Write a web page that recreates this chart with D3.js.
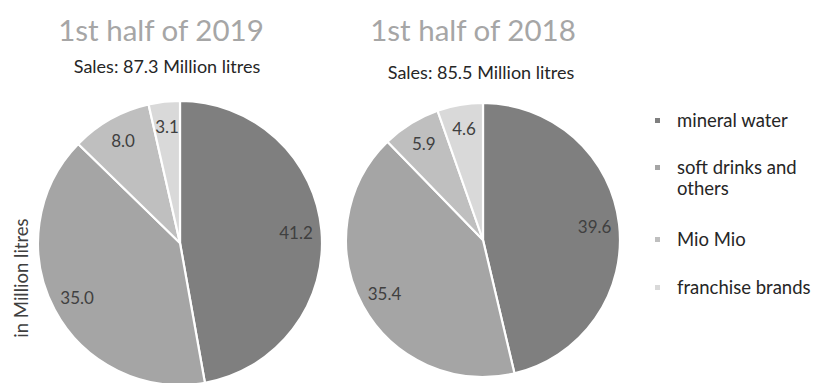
<!DOCTYPE html>
<html><head><meta charset="utf-8">
<script src="https://cdn.jsdelivr.net/npm/d3@7"></script>
<style>body{margin:0;background:#fff}svg{display:block}</style>
</head><body>
<script>
const categories = ["mineral water", "soft drinks and others", "Mio Mio", "franchise brands"];
const legendLines = [["mineral water"], ["soft drinks and", "others"], ["Mio Mio"], ["franchise brands"]];
const values2019 = [41.2, 35.0, 8.0, 3.1];
const values2018 = [39.6, 35.4, 5.9, 4.6];
const titles = ["1st half of 2019", "1st half of 2018"];
const subtitles = ["Sales: 87.3 Million litres", "Sales: 85.5 Million litres"];
const yLabel = "in Million litres";
const colors = ["#7f7f7f", "#a5a5a5", "#bfbfbf", "#d9d9d9"];

const W = 815, H = 383;
const font = "Lato, 'Open Sans', sans-serif";
const svg = d3.select("body").append("svg").attr("width", W).attr("height", H);

const color = d3.scaleOrdinal().domain(categories).range(colors);
const pie = d3.pie().sort(null).value(d => d.v);

const charts = [
  {values: values2019, cx: 180, cy: 243, r: 142, title: titles[0], sub: subtitles[0], tx: 161, sx: 167, ty: 41, sy: 73},
  {values: values2018, cx: 483, cy: 240, r: 137, title: titles[1], sub: subtitles[1], tx: 473, sx: 481, ty: 41, sy: 79}
];

charts.forEach(c => {
  const data = categories.map((k, i) => ({k, v: c.values[i]}));
  const arcs = pie(data);
  const arc = d3.arc().innerRadius(0).outerRadius(c.r);
  const lab = d3.arc().innerRadius(c.r * 0.82).outerRadius(c.r * 0.82);
  const g = svg.append("g").attr("transform", `translate(${c.cx},${c.cy})`);
  g.selectAll("path").data(arcs).join("path")
    .attr("d", arc).attr("fill", d => color(d.data.k))
    .attr("stroke", "#fff").attr("stroke-width", 2.2).attr("stroke-linejoin", "round");
  g.selectAll("text").data(arcs).join("text")
    .attr("transform", d => `translate(${lab.centroid(d)})`)
    .attr("text-anchor", "middle").attr("dy", "0.35em")
    .attr("font-family", font).attr("font-size", 17).attr("fill", "#404040")
    .text(d => d3.format(".1f")(d.data.v));
  svg.append("text").attr("x", c.tx).attr("y", c.ty).attr("text-anchor", "middle")
    .attr("font-family", font).attr("font-weight", 400).attr("font-size", 29.5).attr("fill", "#a6a6a6")
    .text(c.title);
  svg.append("text").attr("x", c.sx).attr("y", c.sy).attr("text-anchor", "middle")
    .attr("font-family", font).attr("font-size", 18).attr("fill", "#262626")
    .text(c.sub);
});

svg.append("text").attr("transform", "translate(28,278) rotate(-90)")
  .attr("text-anchor", "middle").attr("font-family", font).attr("font-size", 18.5).attr("fill", "#404040")
  .text(yLabel);

const legY = [121, 168, 240, 288];
const lg = svg.append("g");
categories.forEach((k, i) => {
  lg.append("rect").attr("x", 655).attr("y", legY[i] - 3).attr("width", 5).attr("height", 5).attr("fill", color(k));
  const t = lg.append("text").attr("x", 677).attr("y", legY[i])
    .attr("font-family", font).attr("font-size", 18.5).attr("fill", "#262626");
  legendLines[i].forEach((ln, j) => t.append("tspan").attr("x", 677).attr("dy", j === 0 ? "0.35em" : 21).text(ln));
});
</script>
</body></html>
